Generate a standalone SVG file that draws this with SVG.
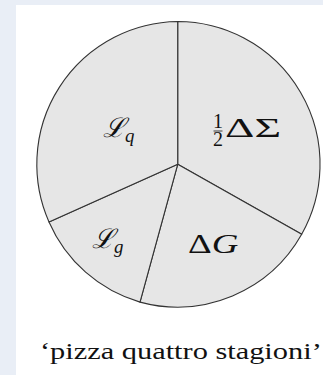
<svg xmlns="http://www.w3.org/2000/svg" width="323" height="375" viewBox="0 0 323 375">
<defs>
<style>
.slice{fill:#e6e6e6;stroke:#333;stroke-width:1.1;stroke-linejoin:round}
.t{font-family:"Liberation Serif",serif;font-size:20px;fill:#111}
</style>
</defs>
<rect width="323" height="375" fill="#e9eef6"/>
<rect x="16" y="5" width="307" height="370" fill="#ffffff"/>
<g id="pie">
<g id="slice-sigma"><path class="slice" d="M177.7,164.3 L177.7,21.5 A142.8,142.8 0 0 1 301.7,234.3 Z"/></g>
<g id="slice-dg"><path class="slice" d="M177.7,164.3 L301.7,234.3 A142.8,142.8 0 0 1 140,302.1 Z"/></g>
<g id="slice-lg"><path class="slice" d="M177.7,164.3 L140,302.1 A142.8,142.8 0 0 1 49,222 Z"/></g>
<g id="slice-lq"><path class="slice" d="M177.7,164.3 L49,222 A142.8,142.8 0 0 1 177.7,21.5 Z"/></g>
</g>
<g id="labels">
<g id="label-lq"><text class="t" transform="translate(103,137) scale(1.35)" font-style="italic">ℒ<tspan font-size="14" dy="4">q</tspan></text></g>
<g id="label-sigma">
<text class="t" x="218" y="128" font-size="15" text-anchor="middle">1</text>
<line x1="213.5" y1="131" x2="222.5" y2="131" stroke="#111" stroke-width="0.8"/>
<text class="t" x="218" y="146" font-size="15" text-anchor="middle">2</text>
<text class="t" transform="translate(225,137) scale(1.4)" textLength="40" lengthAdjust="spacingAndGlyphs">ΔΣ</text>
</g>
<g id="label-lg"><text class="t" transform="translate(92,248) scale(1.35)" font-style="italic">ℒ<tspan font-size="14" dy="4">g</tspan></text></g>
<g id="label-dg"><text class="t" transform="translate(188,253) scale(1.4)" textLength="36" lengthAdjust="spacingAndGlyphs">Δ<tspan font-style="italic">G</tspan></text></g>
</g>
<text id="caption" class="t" transform="translate(40,359) scale(1.15)" textLength="245" lengthAdjust="spacingAndGlyphs">‘pizza quattro stagioni’</text>
</svg>
